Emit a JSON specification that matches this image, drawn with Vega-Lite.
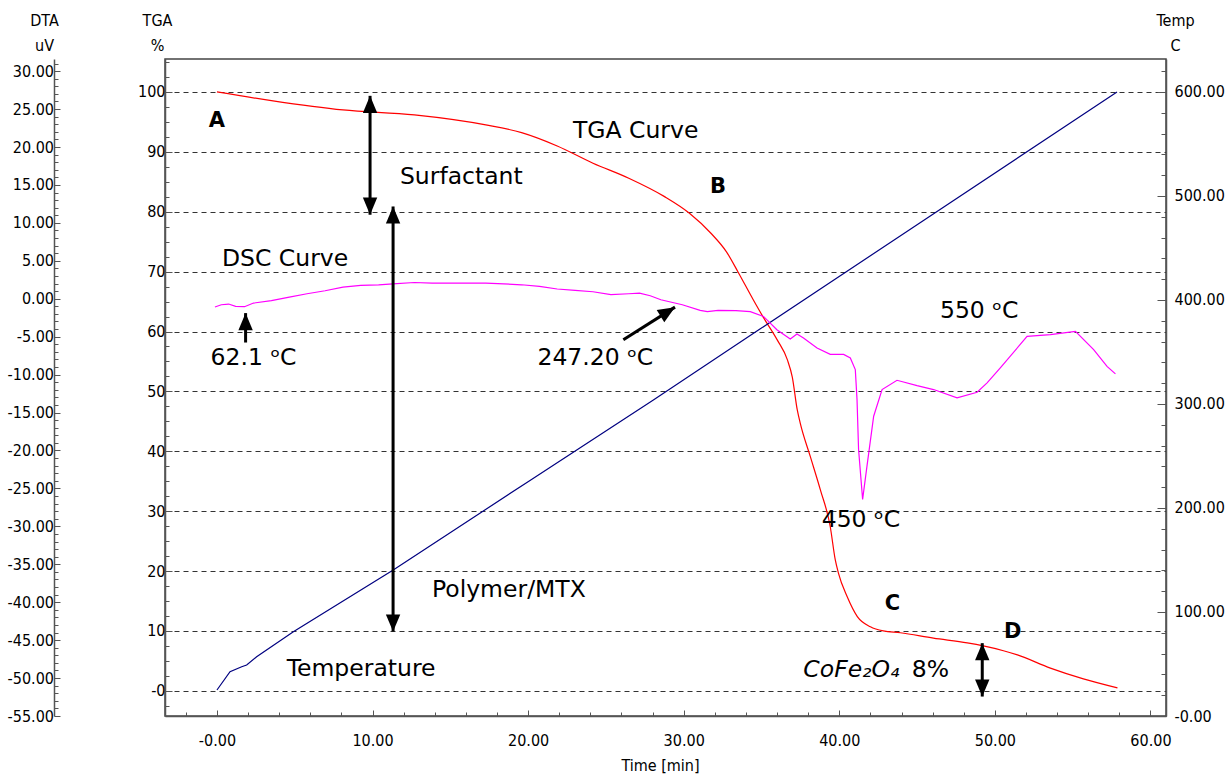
{
  "$schema": "https://vega.github.io/schema/vega-lite/v6.json",
  "width": 1001,
  "height": 657,
  "autosize": {"type": "none"},
  "padding": {"left": 165, "top": 59, "right": 59, "bottom": 58},
  "background": "white",
  "config": {
    "view": {"stroke": "#444", "strokeWidth": 1.5},
    "axis": {
      "labelFont": "Liberation Sans Narrow, Arial Narrow, DejaVu Sans Condensed, Liberation Sans, sans-serif",
      "labelFontSize": 16,
      "labelColor": "#000",
      "titleFont": "Liberation Sans Narrow, Arial Narrow, DejaVu Sans Condensed, Liberation Sans, sans-serif",
      "titleFontSize": 16,
      "titleFontWeight": "normal",
      "titleColor": "#000",
      "domainColor": "#555",
      "domainWidth": 1.5,
      "tickColor": "#555",
      "tickWidth": 1,
      "labelOverlap": false,
      "labelBound": false,
      "labelFlush": false
    }
  },
  "datasets": {
    "tga": [
      {"t": 0, "v": 100.0}, {"t": 3.5, "v": 98.55}, {"t": 8.1, "v": 96.99}, {"t": 12.69, "v": 96.16},
      {"t": 17.28, "v": 94.49}, {"t": 19.58, "v": 93.21}, {"t": 21.87, "v": 90.98}, {"t": 24.17, "v": 88.1},
      {"t": 26.47, "v": 85.59}, {"t": 28.77, "v": 82.52}, {"t": 30.37, "v": 79.75}, {"t": 31.75, "v": 76.41},
      {"t": 32.75, "v": 73.3}, {"t": 33.5, "v": 69.9}, {"t": 34.47, "v": 65.3}, {"t": 35.11, "v": 62.4},
      {"t": 36.01, "v": 58.6}, {"t": 36.66, "v": 55.3}, {"t": 36.98, "v": 52.4}, {"t": 37.3, "v": 46.9},
      {"t": 37.49, "v": 44.7}, {"t": 38.14, "v": 39.1}, {"t": 38.78, "v": 33.6}, {"t": 39.42, "v": 27.4},
      {"t": 39.74, "v": 21.9}, {"t": 39.94, "v": 19.7}, {"t": 40.51, "v": 15.7}, {"t": 41.16, "v": 12.4},
      {"t": 42.0, "v": 10.7}, {"t": 42.83, "v": 10.0}, {"t": 43.92, "v": 9.7}, {"t": 46.05, "v": 8.8},
      {"t": 48.23, "v": 8.0}, {"t": 49.26, "v": 7.5}, {"t": 50.55, "v": 6.7}, {"t": 51.45, "v": 6.0},
      {"t": 53.57, "v": 3.8}, {"t": 55.69, "v": 2.0}, {"t": 57.88, "v": 0.5}
    ],
    "temp": [
      {"t": 0, "v": 25.0}, {"t": 0.84, "v": 42.6}, {"t": 1.59, "v": 47.4}, {"t": 1.91, "v": 49.0},
      {"t": 2.55, "v": 57.0}, {"t": 4.91, "v": 81.0}, {"t": 11.33, "v": 140.4}, {"t": 20.12, "v": 226.5},
      {"t": 28.05, "v": 303.8}, {"t": 34.9, "v": 372.0}, {"t": 57.85, "v": 600.0}
    ],
    "dsc": [
      {"t": -0.13, "v": -1.09}, {"t": 0.28, "v": -0.79}, {"t": 0.75, "v": -0.7}, {"t": 1.2, "v": -1.01},
      {"t": 1.77, "v": -1.05}, {"t": 2.35, "v": -0.57}, {"t": 3.5, "v": -0.26}, {"t": 4.65, "v": 0.22},
      {"t": 5.79, "v": 0.66}, {"t": 6.95, "v": 1.05}, {"t": 8.1, "v": 1.54}, {"t": 9.24, "v": 1.75},
      {"t": 10.39, "v": 1.84}, {"t": 11.31, "v": 1.97}, {"t": 12.69, "v": 2.14}, {"t": 13.83, "v": 2.07},
      {"t": 17.28, "v": 2.07}, {"t": 18.43, "v": 1.97}, {"t": 19.58, "v": 1.84}, {"t": 20.73, "v": 1.62},
      {"t": 21.87, "v": 1.28}, {"t": 23.02, "v": 1.09}, {"t": 24.17, "v": 0.92}, {"t": 25.32, "v": 0.53},
      {"t": 26.47, "v": 0.66}, {"t": 27.16, "v": 0.75}, {"t": 27.85, "v": 0.39}, {"t": 28.53, "v": -0.13},
      {"t": 29.91, "v": -0.79}, {"t": 31.06, "v": -1.54}, {"t": 31.52, "v": -1.71}, {"t": 32.21, "v": -1.54},
      {"t": 33.36, "v": -1.58}, {"t": 34.28, "v": -1.71}, {"t": 35.13, "v": -2.33}, {"t": 35.99, "v": -4.08},
      {"t": 36.85, "v": -5.3}, {"t": 37.28, "v": -4.64}, {"t": 37.7, "v": -5.17}, {"t": 38.57, "v": -6.49},
      {"t": 39.42, "v": -7.33}, {"t": 40.28, "v": -7.33}, {"t": 40.71, "v": -7.8}, {"t": 41.03, "v": -9.34},
      {"t": 41.14, "v": -13.29}, {"t": 41.24, "v": -19.87}, {"t": 41.5, "v": -26.45}, {"t": 41.78, "v": -22.07},
      {"t": 42.21, "v": -15.49}, {"t": 42.75, "v": -11.97}, {"t": 43.71, "v": -10.75}, {"t": 45.0, "v": -11.45},
      {"t": 46.06, "v": -11.97}, {"t": 47.57, "v": -13.07}, {"t": 48.86, "v": -12.33}, {"t": 49.5, "v": -11.09},
      {"t": 50.35, "v": -9.12}, {"t": 52.07, "v": -4.96}, {"t": 53.57, "v": -4.74}, {"t": 55.18, "v": -4.3},
      {"t": 56.35, "v": -6.71}, {"t": 57.21, "v": -8.91}, {"t": 57.75, "v": -9.91}
    ],
    "labels": [
      {"t": 22.88, "v": 92.34, "text": "TGA Curve"},
      {"t": 11.76, "v": 84.65, "text": "Surfactant"},
      {"t": 0.32, "v": 70.96, "text": "DSC Curve"},
      {"t": -0.41, "v": 54.43, "text": "62.1 ᵒC"},
      {"t": 20.6, "v": 54.43, "text": "247.20 ᵒC"},
      {"t": 46.47, "v": 62.28, "text": "550 ᵒC"},
      {"t": 38.87, "v": 27.38, "text": "450 ᵒC"},
      {"t": 13.82, "v": 15.7, "text": "Polymer/MTX"},
      {"t": 4.48, "v": 2.5, "text": "Temperature"},
      {"t": 44.66, "v": 2.34, "text": "8%"}
    ],
    "italic": [
      {"t": 37.69, "v": 2.34, "text": "CoFe₂O₄"}
    ],
    "letters": [
      {"t": 0.0, "v": 94.2, "text": "A"},
      {"t": 32.2, "v": 83.15, "text": "B"},
      {"t": 43.42, "v": 13.5, "text": "C"},
      {"t": 51.14, "v": 8.85, "text": "D"}
    ],
    "arrows": [
      {"t1": 9.84, "t2": 9.84, "y1": 99.35, "y2": 79.5},
      {"t1": 11.32, "t2": 11.32, "y1": 80.87, "y2": 9.9},
      {"t1": 49.19, "t2": 49.19, "y1": 7.96, "y2": -0.95},
      {"t1": 1.84, "t2": 1.84, "y1": 63.07, "y2": 58.16},
      {"t1": 26.12, "t2": 29.44, "y1": 58.61, "y2": 64.07}
    ],
    "headsUp": [
      {"t": 9.84, "v": 99.35}, {"t": 11.32, "v": 80.87}, {"t": 49.19, "v": 7.96}, {"t": 1.84, "v": 63.07}
    ],
    "headsDown": [
      {"t": 9.84, "v": 79.5}, {"t": 11.32, "v": 9.9}, {"t": 49.19, "v": -0.95}
    ],
    "headsDiag": [
      {"t": 29.44, "v": 64.07}
    ]
  },
  "layer": [
    {
      "data": {"name": "tga"},
      "mark": {"type": "line", "color": "#ff0000", "strokeWidth": 1.2, "interpolate": "monotone"},
      "encoding": {
        "x": {
          "field": "t",
          "type": "quantitative",
          "scale": {"domain": [-3.34, 61.0], "nice": false, "zero": false},
          "axis": {
            "orient": "bottom",
            "title": "Time [min]",
            "titleX": 495,
            "titleY": 54,
            "titleAlign": "center",
            "titleBaseline": "alphabetic",
            "values": [-2,0,2,4,6,8,10,12,14,16,18,20,22,24,26,28,30,32,34,36,38,40,42,44,46,48,50,52,54,56,58,60],
            "labelExpr": "datum.value % 10 === 0 ? (datum.value === 0 ? '-0.00' : format(datum.value, '.2f')) : ''",
            "tickSize": {"condition": {"test": "datum.value % 10 === 0", "value": -6}, "value": -4},
            "labelPadding": 22,
            "grid": false
          }
        },
        "y": {
          "field": "v",
          "type": "quantitative",
          "scale": {"domain": [-4.2, 105.5], "nice": false, "zero": false},
          "axis": {
            "orient": "left",
            "title": ["TGA", "%"],
            "titleAngle": 0,
            "titleAlign": "center",
            "titleBaseline": "alphabetic",
            "titleX": -8,
            "titleY": -34,
            "titleLineHeight": 25,
            "values": [-2.5,0,2.5,5,7.5,10,12.5,15,17.5,20,22.5,25,27.5,30,32.5,35,37.5,40,42.5,45,47.5,50,52.5,55,57.5,60,62.5,65,67.5,70,72.5,75,77.5,80,82.5,85,87.5,90,92.5,95,97.5,100,102.5,105],
            "labelExpr": "datum.value % 10 === 0 ? (datum.value === 0 ? '-0' : format(datum.value, 'd')) : ''",
            "tickSize": {"condition": {"test": "datum.value % 10 === 0", "value": -7}, "value": -4},
            "labelPadding": 7,
            "grid": true,
            "gridColor": "#333",
            "gridDash": [5, 4],
            "gridWidth": 1,
            "gridOpacity": {"condition": {"test": "datum.value % 10 === 0 && datum.value >= 0 && datum.value <= 100", "value": 1}, "value": 0}
          }
        }
      }
    },
    {
      "data": {"name": "temp"},
      "mark": {"type": "line", "color": "#000080", "strokeWidth": 1.2},
      "encoding": {
        "x": {"field": "t", "type": "quantitative", "scale": {"domain": [-3.34, 61.0], "nice": false, "zero": false}, "axis": null},
        "y": {
          "field": "v",
          "type": "quantitative",
          "scale": {"domain": [0, 631.7], "nice": false, "zero": false},
          "axis": {
            "orient": "right",
            "title": ["Temp", "C"],
            "titleAngle": 0,
            "titleAlign": "center",
            "titleBaseline": "alphabetic",
            "titleX": 9,
            "titleY": -34,
            "titleLineHeight": 25,
            "values": [0,20,40,60,80,100,120,140,160,180,200,220,240,260,280,300,320,340,360,380,400,420,440,460,480,500,520,540,560,580,600,620],
            "labelExpr": "datum.value % 100 === 0 ? (datum.value === 0 ? '-0.00' : format(datum.value, '.2f')) : ''",
            "tickSize": {"condition": {"test": "datum.value % 100 === 0", "value": -9}, "value": -5},
            "labelPadding": 17,
            "grid": false
          }
        }
      }
    },
    {
      "data": {"name": "dsc"},
      "mark": {"type": "line", "color": "#ff00ff", "strokeWidth": 1.2},
      "encoding": {
        "x": {"field": "t", "type": "quantitative", "scale": {"domain": [-3.34, 61.0], "nice": false, "zero": false}, "axis": null},
        "y": {
          "field": "v",
          "type": "quantitative",
          "scale": {"domain": [-55, 31.6], "nice": false, "zero": false},
          "axis": {
            "orient": "left",
            "offset": 111,
            "title": ["DTA", "uV"],
            "titleAngle": 0,
            "titleAlign": "center",
            "titleBaseline": "alphabetic",
            "titleX": -10,
            "titleY": -34,
            "titleLineHeight": 25,
            "values": [-55,-54,-53,-52,-51,-50,-49,-48,-47,-46,-45,-44,-43,-42,-41,-40,-39,-38,-37,-36,-35,-34,-33,-32,-31,-30,-29,-28,-27,-26,-25,-24,-23,-22,-21,-20,-19,-18,-17,-16,-15,-14,-13,-12,-11,-10,-9,-8,-7,-6,-5,-4,-3,-2,-1,0,1,2,3,4,5,6,7,8,9,10,11,12,13,14,15,16,17,18,19,20,21,22,23,24,25,26,27,28,29,30,31],
            "labelExpr": "datum.value % 5 === 0 ? (datum.value < 0 ? '-' + format(-datum.value, '.2f') : format(datum.value, '.2f')) : ''",
            "tickSize": {"condition": {"test": "datum.value % 5 === 0", "value": -6}, "value": -4},
            "labelPadding": 6.5,
            "grid": false
          }
        }
      }
    },
    {
      "data": {"name": "arrows"},
      "mark": {"type": "rule", "color": "#000", "strokeWidth": 3},
      "encoding": {
        "x": {"field": "t1", "type": "quantitative", "scale": {"domain": [-3.34, 61.0], "nice": false, "zero": false}, "axis": null},
        "x2": {"field": "t2"},
        "y": {"field": "y1", "type": "quantitative", "scale": {"domain": [-4.2, 105.5], "nice": false, "zero": false}, "axis": null},
        "y2": {"field": "y2"}
      }
    },
    {
      "data": {"name": "headsUp"},
      "mark": {"type": "point", "shape": "M0,0L-0.8,1.9L0.8,1.9Z", "size": 324, "filled": true, "color": "#000", "opacity": 1, "strokeWidth": 0},
      "encoding": {
        "x": {"field": "t", "type": "quantitative", "scale": {"domain": [-3.34, 61.0], "nice": false, "zero": false}, "axis": null},
        "y": {"field": "v", "type": "quantitative", "scale": {"domain": [-4.2, 105.5], "nice": false, "zero": false}, "axis": null}
      }
    },
    {
      "data": {"name": "headsDown"},
      "mark": {"type": "point", "shape": "M0,0L-0.8,-1.9L0.8,-1.9Z", "size": 324, "filled": true, "color": "#000", "opacity": 1, "strokeWidth": 0},
      "encoding": {
        "x": {"field": "t", "type": "quantitative", "scale": {"domain": [-3.34, 61.0], "nice": false, "zero": false}, "axis": null},
        "y": {"field": "v", "type": "quantitative", "scale": {"domain": [-4.2, 105.5], "nice": false, "zero": false}, "axis": null}
      }
    },
    {
      "data": {"name": "headsDiag"},
      "mark": {"type": "point", "shape": "M0,0L-0.8,1.9L0.8,1.9Z", "size": 324, "angle": 58, "filled": true, "color": "#000", "opacity": 1, "strokeWidth": 0},
      "encoding": {
        "x": {"field": "t", "type": "quantitative", "scale": {"domain": [-3.34, 61.0], "nice": false, "zero": false}, "axis": null},
        "y": {"field": "v", "type": "quantitative", "scale": {"domain": [-4.2, 105.5], "nice": false, "zero": false}, "axis": null}
      }
    },
    {
      "data": {"name": "labels"},
      "mark": {"type": "text", "font": "DejaVu Sans", "fontSize": 23.5, "align": "left", "baseline": "alphabetic", "color": "#000"},
      "encoding": {
        "x": {"field": "t", "type": "quantitative", "scale": {"domain": [-3.34, 61.0], "nice": false, "zero": false}, "axis": null},
        "y": {"field": "v", "type": "quantitative", "scale": {"domain": [-4.2, 105.5], "nice": false, "zero": false}, "axis": null},
        "text": {"field": "text"}
      }
    },
    {
      "data": {"name": "italic"},
      "mark": {"type": "text", "font": "DejaVu Sans", "fontSize": 23.5, "fontStyle": "italic", "align": "left", "baseline": "alphabetic", "color": "#000"},
      "encoding": {
        "x": {"field": "t", "type": "quantitative", "scale": {"domain": [-3.34, 61.0], "nice": false, "zero": false}, "axis": null},
        "y": {"field": "v", "type": "quantitative", "scale": {"domain": [-4.2, 105.5], "nice": false, "zero": false}, "axis": null},
        "text": {"field": "text"}
      }
    },
    {
      "data": {"name": "letters"},
      "mark": {"type": "text", "font": "DejaVu Sans", "fontSize": 21, "fontWeight": "bold", "align": "center", "baseline": "alphabetic", "color": "#000"},
      "encoding": {
        "x": {"field": "t", "type": "quantitative", "scale": {"domain": [-3.34, 61.0], "nice": false, "zero": false}, "axis": null},
        "y": {"field": "v", "type": "quantitative", "scale": {"domain": [-4.2, 105.5], "nice": false, "zero": false}, "axis": null},
        "text": {"field": "text"}
      }
    }
  ],
  "resolve": {"scale": {"y": "independent", "x": "independent"}}
}
